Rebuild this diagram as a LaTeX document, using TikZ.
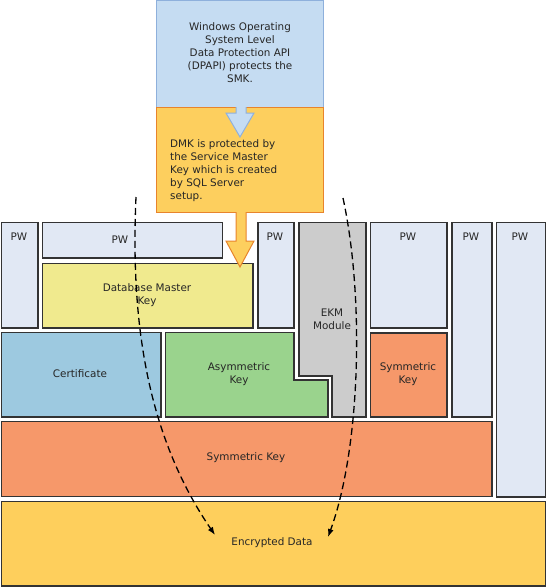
\documentclass[tikz,border=0pt]{standalone}
\usepackage{fontspec}
\setmainfont{DejaVu Sans}
\usetikzlibrary{arrows.meta}
\definecolor{topblue}{HTML}{C5DCF2}
\definecolor{topblueline}{HTML}{8EB0DC}
\definecolor{dmkorange}{HTML}{FDCF5E}
\definecolor{dmkline}{HTML}{E8842C}
\definecolor{pwfill}{HTML}{E1E8F4}
\definecolor{boxline}{HTML}{333333}
\definecolor{dbmk}{HTML}{F0EA8E}
\definecolor{cert}{HTML}{9DC9E0}
\definecolor{asym}{HTML}{9AD38D}
\definecolor{ekm}{HTML}{CCCCCC}
\definecolor{sym}{HTML}{F6986A}
\definecolor{encr}{HTML}{FECF5C}
\tikzset{
  blk/.style={draw=boxline, line width=1.2pt, inner sep=0pt, outer sep=0pt},
  lbl/.style={inner sep=0pt, align=center, text=black!85},
  flow/.style={dash pattern=on 7pt off 4pt, line width=1.3pt, -{Latex[length=8pt,width=6pt]}}
}
\begin{document}
\begin{tikzpicture}[x=1pt,y=-1pt,font=\fontsize{10.4}{13}\selectfont]
\useasboundingbox (0,0) rectangle (547,587);
% top boxes
\path[fill=topblue,draw=topblueline,line width=1pt] (156.5,0.5) rectangle (323.5,107);
\path[fill=dmkorange,draw=dmkline,line width=1pt] (156.5,107) rectangle (323.5,212);
\node[lbl] (dpapi) at (240,53) {Windows Operating\\System Level\\Data Protection API\\(DPAPI) protects the\\SMK.};
\node[lbl, align=left, anchor=west] (dmktext) at (170,171) {DMK is protected by\\the Service Master\\Key which is created\\by SQL Server\\setup.};
% blue block arrow
\fill[topblue] (236,106) -- (246,106) -- (246,113) -- (254,113) -- (240,137) -- (226,113) -- (236,113) -- cycle;
\draw[topblueline,line width=1pt,line join=miter] (236,107) -- (236,113) -- (226,113) -- (240,137) -- (254,113) -- (246,113) -- (246,107);
% boxes
\path[blk,fill=pwfill] (1.5,222.5) rectangle (38,328);
\node[lbl] (pw1) at (19,237) {PW};
\path[blk,fill=pwfill] (42.5,222.5) rectangle (222.5,258);
\node[lbl] (pw2) at (120,240) {PW};
\path[blk,fill=dbmk] (42.5,263.5) rectangle (253,328);
\node[lbl] (dmk) at (147,295) {Database Master\\Key};
\path[blk,fill=pwfill] (258,222.5) rectangle (294,328);
\node[lbl] (pw3) at (275,237) {PW};
\path[blk,fill=ekm] (299,222.5) -- (366,222.5) -- (366,417) -- (332,417) -- (332,376) -- (299,376) -- cycle;
\node[lbl] (ekmlbl) at (332,319) {EKM\\Module};
\path[blk,fill=pwfill] (370.5,222.5) rectangle (447,328);
\node[lbl] (pw4) at (408,237) {PW};
\path[blk,fill=pwfill] (452,222.5) rectangle (492,417);
\node[lbl] (pw5) at (471,237) {PW};
\path[blk,fill=pwfill] (496.5,222.5) rectangle (545.5,497);
\node[lbl] (pw6) at (520,237) {PW};
\path[blk,fill=cert] (1.5,332.5) rectangle (161,417);
\node[lbl] (certlbl) at (80,374) {Certificate};
\path[blk,fill=asym] (165.5,332.5) -- (294,332.5) -- (294,380) -- (328,380) -- (328,417) -- (165.5,417) -- cycle;
\node[lbl] (asymlbl) at (239,374) {Asymmetric\\Key};
\path[blk,fill=sym] (370.5,333) rectangle (447,417);
\node[lbl] (symsmall) at (408,374) {Symmetric\\Key};
\path[blk,fill=sym] (1.5,421.5) rectangle (492,496.5);
\node[lbl] (symbig) at (246,458) {Symmetric Key};
\path[blk,fill=encr] (1.5,501.5) rectangle (545.5,586);
\node[lbl] (encrlbl) at (272,543) {Encrypted Data};
% orange block arrow
\fill[dmkorange] (236,211) -- (246,211) -- (246,241) -- (254,241) -- (240,267) -- (226,241) -- (236,241) -- cycle;
\draw[dmkline,line width=1pt,line join=miter] (236,212) -- (236,241) -- (226,241) -- (240,267) -- (254,241) -- (246,241) -- (246,212);
% dashed flows
\coordinate (ls) at (136,197);
\coordinate (le) at (215,535);
\coordinate (rs) at (343,198);
\coordinate (re) at (328,537);
\draw[flow] (ls) .. controls (130,330) and (150,440) .. (le);
\draw[flow] (rs) .. controls (365,300) and (360,450) .. (re);
\end{tikzpicture}
\end{document}
